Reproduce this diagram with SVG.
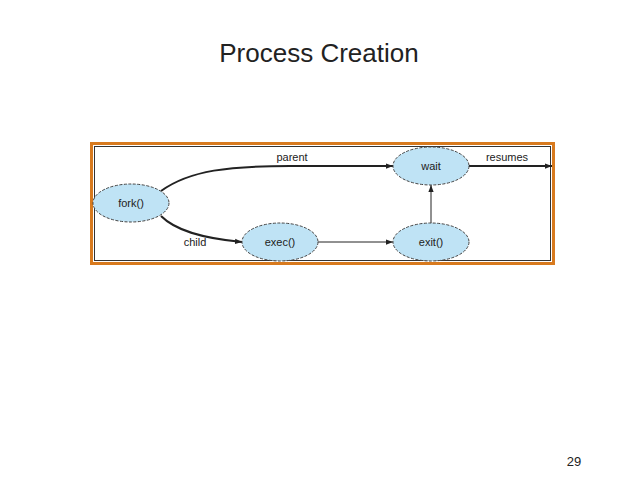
<svg xmlns="http://www.w3.org/2000/svg" width="638" height="478" viewBox="0 0 638 478">
<style>
text{font-family:"Liberation Sans",Arial,sans-serif;fill:#222}
.n ellipse{fill:#bfe3f5;stroke:#444;stroke-width:1;stroke-dasharray:3 1.5}
.n text{font-size:11px;text-anchor:middle}
.c path{fill:none;stroke:#222}
.l{font-size:11px;text-anchor:middle}
</style>
<defs><marker id="a" viewBox="0 0 8 8" refX="8" refY="4" markerWidth="7" markerHeight="7" orient="auto" markerUnits="userSpaceOnUse"><path d="M0,1 L8,4 L0,7z" fill="#222"/></marker></defs>
<rect width="638" height="478" fill="#fff"/>
<text x="319" y="62" font-size="26" text-anchor="middle" fill="#000">Process Creation</text>
<rect x="91.5" y="143.5" width="462" height="120" fill="#fff" stroke="#d87a1e" stroke-width="3"/>
<rect x="94.5" y="146.5" width="456" height="114" fill="none" stroke="#333" stroke-width="1"/>
<g class="c">
<path d="M161,191 C190,170 230,166 290,166 L393,166" stroke-width="2" marker-end="url(#a)"/>
<path d="M469,166 L552,166" stroke-width="2" marker-end="url(#a)"/>
<path d="M161,216 C175,230 200,238 242,242" stroke-width="2" marker-end="url(#a)"/>
<path d="M318,242 L393,242" marker-end="url(#a)"/>
<path d="M431,223 L431,185" marker-end="url(#a)"/>
</g>
<text class="l" x="292" y="161">parent</text>
<text class="l" x="507" y="161">resumes</text>
<text class="l" x="195" y="246">child</text>
<g id="fork" class="n"><ellipse cx="131" cy="203" rx="38" ry="19"/><text x="131" y="207">fork()</text></g>
<g id="exec" class="n"><ellipse cx="280" cy="242" rx="38" ry="19"/><text x="280" y="246">exec()</text></g>
<g id="exit" class="n"><ellipse cx="431" cy="242" rx="38" ry="19"/><text x="431" y="246">exit()</text></g>
<g id="wait" class="n"><ellipse cx="431" cy="166" rx="38" ry="19"/><text x="431" y="170">wait</text></g>
<text x="574" y="466" font-size="13" text-anchor="middle" fill="#000">29</text>
</svg>
